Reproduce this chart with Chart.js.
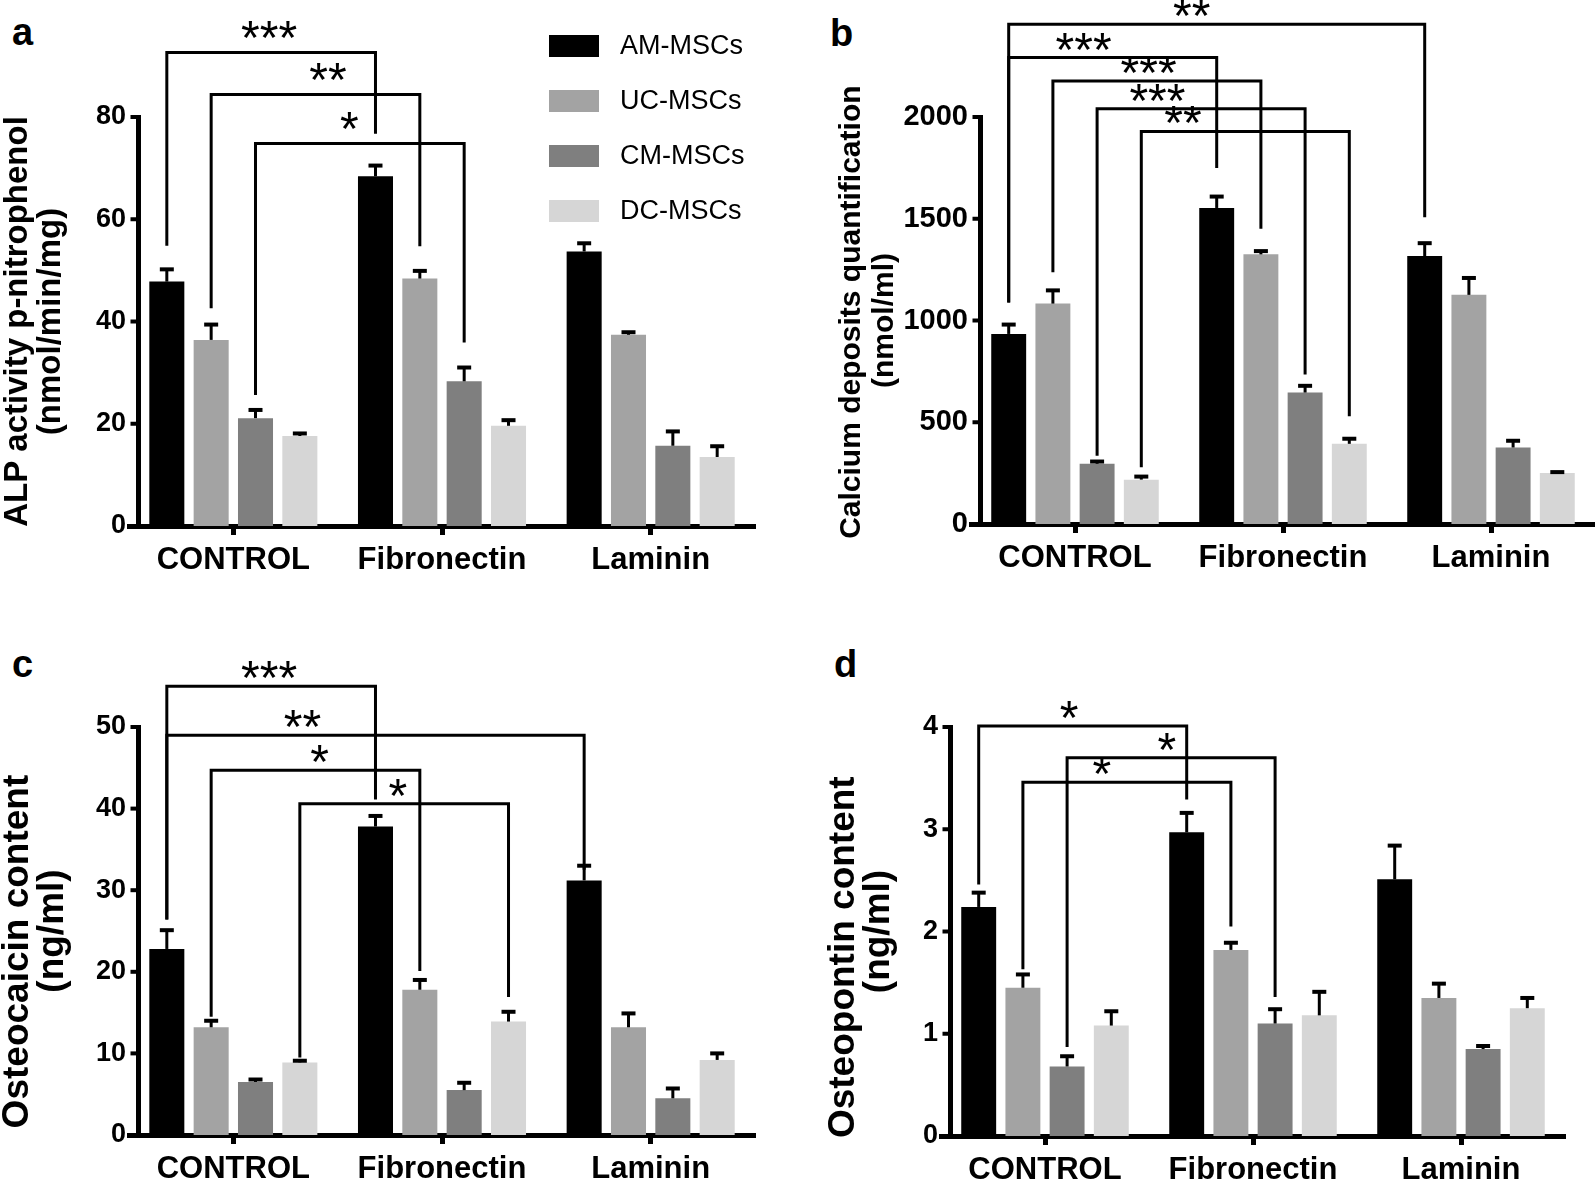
<!DOCTYPE html>
<html>
<head>
<meta charset="utf-8">
<title>MSC osteogenic markers</title>
<script src="https://cdn.jsdelivr.net/npm/chart.js@4.4.1/dist/chart.umd.min.js"></script>
<style>
  body { margin: 0; background: #fff; }
  .page { position: relative; width: 1595px; height: 1181px; overflow: hidden; }
  .panel { position: absolute; }
  .tag { position: absolute; font: bold 38px 'Liberation Sans', Arial, sans-serif; line-height: 1; }
</style>
</head>
<body>
<div class="page">
  <div class="tag" style="left:12px;top:13px">a</div>
  <div class="tag" style="left:830px;top:14px">b</div>
  <div class="tag" style="left:12px;top:645px">c</div>
  <div class="tag" style="left:834px;top:645px">d</div>
  <div class="panel" style="left:0;top:0;width:790px;height:600px"><canvas id="chartA"></canvas></div>
  <div class="panel" style="left:800px;top:0;width:795px;height:600px"><canvas id="chartB"></canvas></div>
  <div class="panel" style="left:0;top:600px;width:790px;height:581px"><canvas id="chartC"></canvas></div>
  <div class="panel" style="left:800px;top:600px;width:795px;height:581px"><canvas id="chartD"></canvas></div>
</div>
<script>
const groups = ['CONTROL', 'Fibronectin', 'Laminin']
const cells = ['AM-MSCs', 'UC-MSCs', 'CM-MSCs', 'DC-MSCs']
const colors = ['#000000', '#a3a3a3', '#7f7f7f', '#d6d6d6']

// a - ALP activity, rows = cells, columns = groups
const alpMean = [[47.8, 68.4, 53.7], [36.4, 48.4, 37.4], [21.1, 28.3, 15.7], [17.6, 19.6, 13.5]]
const alpErr = [[2.4, 2.1, 1.6], [3.0, 1.5, 0.5], [1.6, 2.7, 2.8], [0.5, 1.1, 2.1]]
const alpTicks = [0, 20, 40, 60, 80]
// from/to = [group, cell]
const alpSig = [
  { from: [0, 0], to: [1, 0], y: 92.6, ends: [54.8, 76.7], mark: '***', at: 0.49 },
  { from: [0, 1], to: [1, 1], y: 84.4, ends: [42.6, 54.7], mark: '**', at: 0.56 },
  { from: [0, 2], to: [1, 2], y: 74.8, ends: [25.6, 35.9], mark: '*', at: 0.45 }
]

// b - calcium deposits
const caMean = [[934, 1553, 1317], [1083, 1325, 1126], [296, 646, 376], [218, 394, 251]]
const caErr = [[46, 56, 63], [65, 16, 83], [11, 33, 33], [15, 25, 4]]
const caTicks = [0, 500, 1000, 1500, 2000]
const caSig = [
  { from: [0, 0], to: [2, 0], y: 2456, ends: [1088, 1507], mark: '**', at: 0.44 },
  { from: [0, 0], to: [1, 0], y: 2292, ends: [1088, 1749], mark: '***', at: 0.36 },
  { from: [0, 1], to: [1, 1], y: 2177, ends: [1237, 1451], mark: '***', at: 0.46 },
  { from: [0, 2], to: [1, 2], y: 2041, ends: [335, 735], mark: '***', at: 0.29 },
  { from: [0, 3], to: [1, 3], y: 1929, ends: [279, 530], mark: '**', at: 0.2 }
]

// c - osteocalcin
const ocMean = [[22.8, 37.8, 31.2], [13.2, 17.8, 13.2], [6.5, 5.5, 4.5], [8.9, 13.9, 9.2]]
const ocErr = [[2.3, 1.3, 1.8], [0.8, 1.2, 1.7], [0.3, 0.9, 1.2], [0.2, 1.2, 0.8]]
const ocTicks = [0, 10, 20, 30, 40, 50]
const ocSig = [
  { from: [0, 0], to: [1, 0], y: 55.0, ends: [26.4, 41.1], mark: '***', at: 0.49 },
  { from: [0, 0], to: [2, 0], y: 49.0, ends: [26.4, 32.5], mark: '**', at: 0.325 },
  { from: [0, 1], to: [1, 1], y: 44.7, ends: [14.5, 20.1], mark: '*', at: 0.52 },
  { from: [0, 3], to: [1, 3], y: 40.6, ends: [9.5, 16.9], mark: '*', at: 0.47 }
]

// d - osteopontin
const opMean = [[2.24, 2.97, 2.51], [1.45, 1.82, 1.35], [0.68, 1.10, 0.85], [1.08, 1.18, 1.25]]
const opErr = [[0.14, 0.19, 0.33], [0.13, 0.07, 0.14], [0.10, 0.14, 0.03], [0.14, 0.23, 0.10]]
const opTicks = [0, 1, 2, 3, 4]
const opSig = [
  { from: [0, 0], to: [1, 0], y: 4.01, ends: [2.46, 3.29], mark: '*', at: 0.435 },
  { from: [0, 2], to: [1, 2], y: 3.70, ends: [0.87, 1.36], mark: '*', at: 0.48 },
  { from: [0, 1], to: [1, 1], y: 3.46, ends: [1.63, 2.05], mark: '*', at: 0.38 }
]

Chart.defaults.font.family = "'Liberation Sans', Arial, sans-serif"
Chart.defaults.color = '#000'

const pad = n => '\u00a0'.repeat(n)

// y axis line sits a little right of where the category scale starts
const yAxisLine = {
  id: 'yAxisLine',
  afterDraw(chart) {
    const { ctx, chartArea, scales: { y } } = chart
    const x = chartArea.left + 9.5
    ctx.save()
    ctx.strokeStyle = '#000'
    ctx.lineWidth = 5
    ctx.beginPath()
    ctx.moveTo(x, y.getPixelForValue(y.min) + 2)
    ctx.lineTo(x, y.getPixelForValue(y.max) - 2)
    ctx.stroke()
    ctx.lineWidth = 4
    y.ticks.forEach(t => {
      const py = y.getPixelForValue(t.value)
      ctx.beginPath()
      ctx.moveTo(x - 8, py)
      ctx.lineTo(x, py)
      ctx.stroke()
    })
    ctx.restore()
  }
}

const errorBars = errs => ({
  id: 'errorBars',
  afterDatasetsDraw(chart) {
    const { ctx, scales: { y } } = chart
    ctx.save()
    ctx.strokeStyle = '#000'
    errs.forEach((row, i) => {
      chart.getDatasetMeta(i).data.forEach((bar, j) => {
        const top = y.getPixelForValue(chart.data.datasets[i].data[j] + row[j])
        ctx.lineWidth = 3
        ctx.beginPath()
        ctx.moveTo(bar.x, bar.y)
        ctx.lineTo(bar.x, top)
        ctx.stroke()
        ctx.lineWidth = 4
        ctx.beginPath()
        ctx.moveTo(bar.x - 7, top)
        ctx.lineTo(bar.x + 7, top)
        ctx.stroke()
      })
    })
    ctx.restore()
  }
})

const brackets = (sig, gap) => ({
  id: 'brackets',
  afterDraw(chart) {
    const { ctx, scales: { y } } = chart
    const barX = ([g, c]) => chart.getDatasetMeta(c).data[g].x
    ctx.save()
    ctx.strokeStyle = '#000'
    ctx.fillStyle = '#000'
    ctx.lineWidth = 3
    ctx.font = "48px 'Liberation Sans', Arial, sans-serif"
    ctx.textAlign = 'center'
    ctx.textBaseline = 'alphabetic'
    sig.forEach(s => {
      const xa = barX(s.from)
      const xb = barX(s.to)
      const py = y.getPixelForValue(s.y)
      ctx.beginPath()
      ctx.moveTo(xa, y.getPixelForValue(s.ends[0]))
      ctx.lineTo(xa, py)
      ctx.lineTo(xb, py)
      ctx.lineTo(xb, y.getPixelForValue(s.ends[1]))
      ctx.stroke()
      // asterisk glyph bottom sits ~13px above the baseline
      ctx.fillText(s.mark, xa + (xb - xa) * s.at, py - gap + 13)
    })
    ctx.restore()
  }
})

const legendBox = {
  id: 'legendBox',
  afterDraw(chart) {
    const { ctx } = chart
    ctx.save()
    ctx.font = "27px 'Liberation Sans', Arial, sans-serif"
    ctx.textBaseline = 'middle'
    chart.data.datasets.forEach((ds, i) => {
      const top = 35 + i * 55
      ctx.fillStyle = ds.backgroundColor
      ctx.fillRect(549, top, 50, 22)
      ctx.fillStyle = '#000'
      ctx.fillText(ds.label, 620, top + 12)
    })
    ctx.restore()
  }
}

const makeChart = (id, box, title, ticks, means, errs, sig, extra) => {
  const ctx = document.getElementById(id).getContext('2d')
  return new Chart(ctx, {
    type: 'bar',
    data: {
      labels: groups,
      datasets: cells.map((c, i) => ({
        label: c,
        data: means[i],
        backgroundColor: colors[i],
        borderWidth: 0,
        barPercentage: 0.79,
        categoryPercentage: 0.85
      }))
    },
    options: {
      responsive: true,
      maintainAspectRatio: false,
      animation: false,
      events: [],
      layout: { padding: { left: 0, top: box.top, right: box.right, bottom: 0 } },
      plugins: { legend: { display: false }, tooltip: { enabled: false } },
      scales: {
        x: {
          z: 1,
          grid: { display: true, drawOnChartArea: false, offset: false, tickLength: 9, tickWidth: 5, color: '#000' },
          border: { display: true, width: 5, color: '#000' },
          ticks: { font: { size: 31, weight: 'bold' }, padding: 7, maxRotation: 0 },
          afterFit: s => { s.height = box.xh }
        },
        y: {
          min: ticks[0],
          max: ticks[ticks.length - 1],
          grid: { display: false, drawTicks: false },
          border: { display: false },
          ticks: {
            stepSize: ticks[1] - ticks[0],
            font: { size: box.tick, weight: 'bold' },
            padding: 3,
            callback: v => String(v)
          },
          title: {
            display: true,
            text: title,
            font: { size: box.tsize, weight: 'bold', lineHeight: box.tlh },
            padding: { top: box.tpad, bottom: 0 }
          },
          afterFit: s => { s.width = box.yw }
        }
      }
    },
    plugins: [yAxisLine, errorBars(errs), brackets(sig, box.gap)].concat(extra || [])
  })
}

makeChart('chartA', { top: 117, right: 35, xh: 74, yw: 129, tick: 27, tsize: 33, tlh: 1.0, tpad: 1, gap: 11.5 },
  ['ALP activity p-nitrophenol', '(nmol/min/mg)'], alpTicks, alpMean, alpErr, alpSig, [legendBox])
makeChart('chartB', { top: 117, right: 0, xh: 76, yw: 171, tick: 29, tsize: 30, tlh: 1.1, tpad: 35.5, gap: 5 },
  [pad(2) + 'Calcium deposits quantification', '(nmol/ml)'], caTicks, caMean, caErr, caSig)
makeChart('chartC', { top: 127, right: 35, xh: 46, yw: 129, tick: 27, tsize: 37, tlh: 0.93, tpad: 1, gap: 5 },
  ['Osteocaicin content' + pad(4), '(ng/ml)'], ocTicks, ocMean, ocErr, ocSig)
makeChart('chartD', { top: 127, right: 30, xh: 45, yw: 141, tick: 27, tsize: 37, tlh: 0.93, tpad: 27, gap: 5 },
  ['Osteopontin content' + pad(5), '(ng/ml)'], opTicks, opMean, opErr, opSig)
</script>
</body>
</html>
